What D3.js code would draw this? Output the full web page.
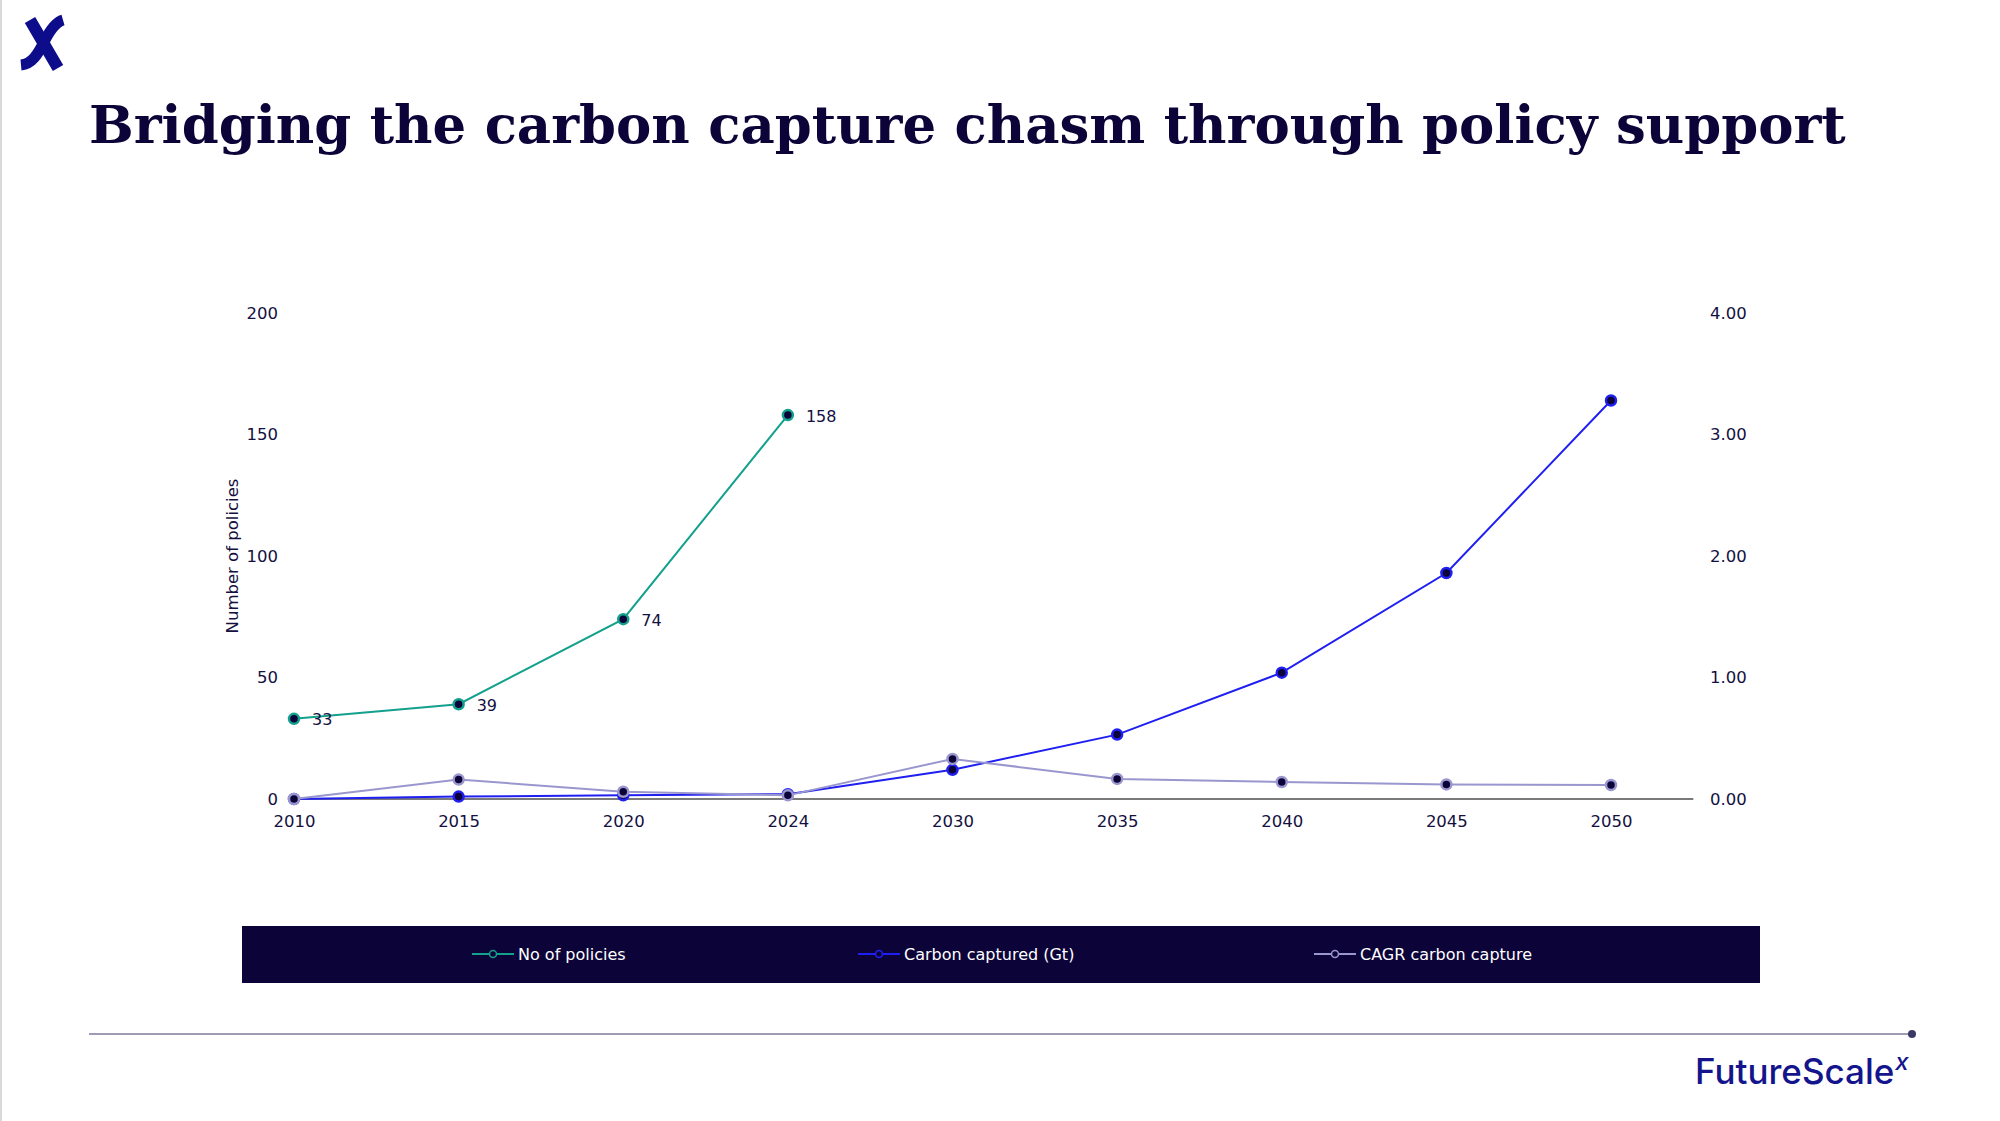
<!DOCTYPE html>
<html>
<head>
<meta charset="utf-8">
<script src="https://cdn.jsdelivr.net/npm/d3@7"></script>
<style>
  html, body { margin: 0; padding: 0; background: #ffffff; }
  svg { display: block; }
</style>
</head>
<body>
<svg id="chart" width="2000" height="1121"></svg>
<script>
// ---- data ----
const years = ["2010", "2015", "2020", "2024", "2030", "2035", "2040", "2045", "2050"];
const policies = [33, 39, 74, 158, null, null, null, null, null];
const carbonCaptured = [0, 0.02, 0.03, 0.04, 0.24, 0.53, 1.04, 1.86, 3.28];
const cagrCarbon = [0, 0.16, 0.06, 0.03, 0.33, 0.165, 0.14, 0.12, 0.115];
const leftTicks = [0, 50, 100, 150, 200];
const rightTicks = [0, 1, 2, 3, 4];
const seriesNames = ["No of policies", "Carbon captured (Gt)", "CAGR carbon capture"];
const titleText = "Bridging the carbon capture chasm through policy support";
const yAxisTitle = "Number of policies";

// ---- styles ----
const NAVY = "#0c0339";
const TEXT = "#14103f";
const colors = ["#13a08c", "#1f1ff2", "#9a97cf"];
const FONT = "'DejaVu Sans', Verdana, sans-serif";

const svg = d3.select("#chart");

// left slide edge
svg.append("line").attr("x1", 1).attr("x2", 1).attr("y1", 0).attr("y2", 1121)
  .attr("stroke", "#d9d9d9").attr("stroke-width", 2);

// top-left logo "x"
const logo = svg.append("g").attr("fill", "none").attr("stroke", "#0d0d8c").attr("stroke-linecap", "butt");
logo.append("path").attr("d", "M30,20 L58,68").attr("stroke-width", 12);
logo.append("path").attr("d", "M63,20 C56,22 50,30 44,42 C38,54 32,64 21,65").attr("stroke-width", 11);

// title (font size fitted to the reference width)
const title = svg.append("text")
  .attr("x", 89).attr("y", 143)
  .attr("font-family", "'DejaVu Serif', Georgia, serif")
  .attr("font-weight", "bold")
  .attr("font-size", 60)
  .attr("fill", NAVY)
  .text(titleText);
const tw = title.node().getComputedTextLength();
title.attr("font-size", 60 * 1757 / tw);

// scales
const x = d3.scalePoint().domain(years).range([294, 1611]);
const yL = d3.scaleLinear().domain([0, 200]).range([799, 313]);
const yR = d3.scaleLinear().domain([0, 4]).range([799, 313]);
const step = x.step();

// left axis
const gL = svg.append("g").attr("transform", "translate(278,0)")
  .call(d3.axisLeft(yL).tickValues(leftTicks).tickSize(0).tickPadding(0).tickFormat(d3.format("d")));
gL.select(".domain").remove();
gL.selectAll("text").attr("font-family", FONT).attr("font-size", 16.5).attr("fill", TEXT);

// right axis
const gR = svg.append("g").attr("transform", "translate(1710,0)")
  .call(d3.axisRight(yR).tickValues(rightTicks).tickSize(0).tickPadding(0).tickFormat(d3.format(".2f")));
gR.select(".domain").remove();
gR.selectAll("text").attr("font-family", FONT).attr("font-size", 16.5).attr("fill", TEXT);

// x axis
const gX = svg.append("g").attr("transform", "translate(0,799)")
  .call(d3.axisBottom(x).tickSize(0).tickPadding(16));
gX.select(".domain").remove();
gX.selectAll("text").attr("font-family", FONT).attr("font-size", 16.5).attr("fill", TEXT);
svg.append("line")
  .attr("x1", x(years[0])).attr("x2", x(years[years.length - 1]) + step / 2)
  .attr("y1", yL(0)).attr("y2", yL(0))
  .attr("stroke", "#7a7a7a").attr("stroke-width", 2);

// y axis title
svg.append("text")
  .attr("transform", `translate(238,${(yL(0) + yL(200)) / 2 + 0}) rotate(-90)`)
  .attr("text-anchor", "middle")
  .attr("font-family", FONT).attr("font-size", 16.5).attr("fill", TEXT)
  .text(yAxisTitle);

// series
const series = [
  { name: seriesNames[0], values: policies, scale: yL, color: colors[0] },
  { name: seriesNames[1], values: carbonCaptured, scale: yR, color: colors[1] },
  { name: seriesNames[2], values: cagrCarbon, scale: yR, color: colors[2] }
];

series.forEach(s => {
  const pts = years.map((yr, i) => ({ yr, v: s.values[i] })).filter(d => d.v !== null);
  const line = d3.line().x(d => x(d.yr)).y(d => s.scale(d.v));
  svg.append("path").datum(pts)
    .attr("d", line).attr("fill", "none")
    .attr("stroke", s.color).attr("stroke-width", 2);
  svg.append("g").selectAll("circle").data(pts).join("circle")
    .attr("cx", d => x(d.yr)).attr("cy", d => s.scale(d.v))
    .attr("r", 5).attr("fill", NAVY)
    .attr("stroke", s.color).attr("stroke-width", 2.5);
});

// data labels for policies
const polPts = years.map((yr, i) => ({ yr, v: policies[i] })).filter(d => d.v !== null);
svg.append("g").selectAll("text").data(polPts).join("text")
  .attr("x", d => x(d.yr) + 18).attr("y", d => yL(d.v) + 1)
  .attr("dominant-baseline", "central")
  .attr("font-family", FONT).attr("font-size", 16).attr("fill", TEXT)
  .text(d => d.v);

// legend
svg.append("rect").attr("x", 242).attr("y", 926).attr("width", 1518).attr("height", 57)
  .attr("fill", NAVY);
const legendX = [472, 858, 1314];
series.forEach((s, i) => {
  const g = svg.append("g").attr("transform", `translate(${legendX[i]},954)`);
  g.append("line").attr("x1", 0).attr("x2", 42).attr("y1", 0).attr("y2", 0)
    .attr("stroke", s.color).attr("stroke-width", 2);
  g.append("circle").attr("cx", 21).attr("cy", 0).attr("r", 3.5)
    .attr("fill", NAVY).attr("stroke", s.color).attr("stroke-width", 1.5);
  g.append("text").attr("x", 46).attr("y", 0).attr("dominant-baseline", "central")
    .attr("font-family", FONT).attr("font-size", 16).attr("fill", "#ffffff")
    .text(s.name);
});

// bottom rule
svg.append("line").attr("x1", 89).attr("x2", 1911).attr("y1", 1034).attr("y2", 1034)
  .attr("stroke", "#7c7a9e").attr("stroke-width", 1.5);
svg.append("circle").attr("cx", 1912).attr("cy", 1034).attr("r", 4).attr("fill", "#3b3866");

// brand text
const brand = svg.append("text").attr("x", 1695).attr("y", 1084)
  .attr("font-family", "Inter, Roboto, sans-serif").attr("font-size", 35)
  .attr("fill", "#14148c").attr("font-weight", 500);
brand.append("tspan").text("FutureScale");
brand.append("tspan").attr("font-size", 24).attr("font-style", "italic").attr("dy", -14).attr("dx", 1).text("x");
</script>
</body>
</html>
